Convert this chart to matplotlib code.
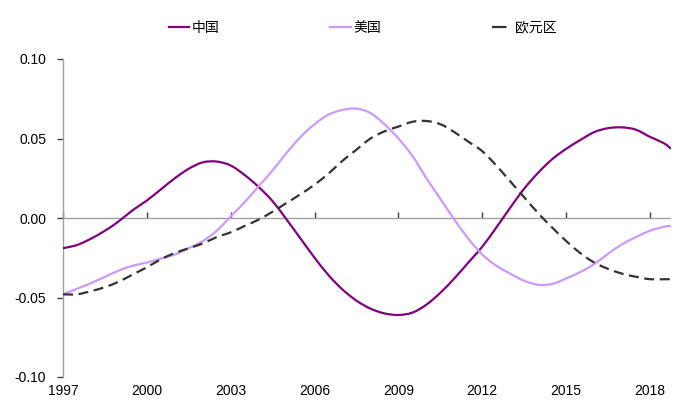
import matplotlib
matplotlib.use("Agg")
import matplotlib.pyplot as plt
from matplotlib.path import Path
from matplotlib.patches import PathPatch
from matplotlib.lines import Line2D
import numpy as np

plt.rcParams['font.family'] = ['Liberation Sans', 'Noto Sans CJK SC', 'DejaVu Sans']

years = [1997.0, 1997.5, 1998.0, 1998.5, 1999.0, 1999.5, 2000.0, 2000.5, 2001.0, 2001.5,
         2002.0, 2002.5, 2003.0, 2003.5, 2004.0, 2004.5, 2005.0, 2005.5, 2006.0, 2006.5,
         2007.0, 2007.5, 2008.0, 2008.5, 2009.0, 2009.5, 2010.0, 2010.5, 2011.0, 2011.5,
         2012.0, 2012.5, 2013.0, 2013.5, 2014.0, 2014.5, 2015.0, 2015.5, 2016.0, 2016.5,
         2017.0, 2017.5, 2018.0, 2018.5, 2018.75]

china = [-0.019, -0.017, -0.013, -0.008, -0.002, 0.005, 0.011, 0.018, 0.025, 0.031,
         0.035, 0.0355, 0.033, 0.027, 0.0195, 0.0105, -0.001, -0.013, -0.025, -0.036,
         -0.045, -0.052, -0.057, -0.060, -0.061, -0.0595, -0.0545, -0.047, -0.038, -0.028,
         -0.018, -0.006, 0.0065, 0.0185, 0.0285, 0.037, 0.0435, 0.049, 0.054, 0.0565,
         0.057, 0.0555, 0.051, 0.047, 0.0435]

usa = [-0.048, -0.0445, -0.041, -0.037, -0.033, -0.030, -0.028, -0.0255, -0.023, -0.019,
       -0.0145, -0.008, 0.001, 0.010, 0.020, 0.030, 0.041, 0.051, 0.059, 0.065,
       0.068, 0.0688, 0.066, 0.059, 0.050, 0.039, 0.025, 0.012, -0.001, -0.013,
       -0.023, -0.030, -0.035, -0.0395, -0.042, -0.0415, -0.038, -0.034, -0.029, -0.0225,
       -0.0165, -0.012, -0.008, -0.0055, -0.005]

euro = [-0.048, -0.048, -0.046, -0.0435, -0.040, -0.0355, -0.031, -0.026, -0.022, -0.019,
        -0.016, -0.012, -0.009, -0.005, -0.001, 0.004, 0.0095, 0.015, 0.021, 0.028,
        0.036, 0.043, 0.050, 0.0545, 0.0575, 0.0605, 0.061, 0.059, 0.054, 0.048,
        0.042, 0.033, 0.023, 0.013, 0.003, -0.006, -0.0145, -0.022, -0.028, -0.032,
        -0.035, -0.037, -0.0385, -0.0385, -0.0385]

series_names = ['中国', '美国', '欧元区']
x_ticks = [1997, 2000, 2003, 2006, 2009, 2012, 2015, 2018]
y_ticks = [-0.10, -0.05, 0.00, 0.05, 0.10]


def smooth_path(xs, ys):
    """Catmull-Rom through the data points, drawn as cubic Bezier segments (like a spreadsheet smoothed line)."""
    p = np.column_stack([xs, ys]).astype(float)
    n = len(p)
    verts = [p[0]]
    codes = [Path.MOVETO]
    for i in range(n - 1):
        p0 = p[i - 1] if i > 0 else p[i]
        p1 = p[i]
        p2 = p[i + 1]
        p3 = p[i + 2] if i + 2 < n else p[i + 1]
        c1 = p1 + (p2 - p0) / 6.0
        c2 = p2 - (p3 - p1) / 6.0
        verts += [c1, c2, p2]
        codes += [Path.CURVE4] * 3
    return Path(verts, codes)


fig = plt.figure(figsize=(6.88, 4.20), dpi=100)
ax = fig.add_axes([63/688, 1-377/420, (671-63)/688, (377-59)/420])

styles = [
    dict(edgecolor='#800080', linewidth=1.6, linestyle='-'),
    dict(edgecolor='#CC99FF', linewidth=1.6, linestyle='-'),
    dict(edgecolor='#333333', linewidth=1.6, linestyle=(0, (4.5, 2.5))),
]
for ys, st in zip([china, usa, euro], styles):
    ax.add_patch(PathPatch(smooth_path(years, ys), facecolor='none', zorder=3,
                           capstyle='butt', joinstyle='round', **st))

ax.set_xlim(1997, 2018.75)
ax.set_ylim(-0.10, 0.10)

for s in ['top', 'right', 'bottom']:
    ax.spines[s].set_visible(False)
ax.spines['left'].set_color('#A0A0A0')
ax.spines['left'].set_linewidth(1.0)

ax.set_yticks(y_ticks)
ax.set_yticklabels(['%.2f' % v for v in y_ticks], fontsize=10)
ax.tick_params(axis='y', direction='out', length=4, width=1, color='#404040', pad=8)

ax.set_xticks(x_ticks)
ax.set_xticklabels([str(v) for v in x_ticks], fontsize=10)
ax.tick_params(axis='x', length=0, pad=5)

ax.axhline(0, color='#A0A0A0', lw=1.0, zorder=1)

sec = ax.secondary_xaxis(0.5)
sec.set_xticks(x_ticks)
sec.set_xticklabels([])
sec.tick_params(axis='x', which='both', top=True, bottom=False, direction='out', length=4,
                width=1, color='#404040', labelbottom=False, labeltop=False)
for s in sec.spines.values():
    s.set_visible(False)

handles = [
    Line2D([], [], color='#800080', lw=1.6),
    Line2D([], [], color='#CC99FF', lw=1.6),
    Line2D([], [], color='#333333', lw=1.6, dashes=(6.5, 10)),
]
leg = ax.legend(handles, series_names, loc='center', bbox_to_anchor=(0.493, 1.098), ncol=3,
                frameon=False, handlelength=1.45, handletextpad=0.2, columnspacing=8.0,
                prop={'family': ['Noto Sans CJK SC', 'DejaVu Sans'], 'size': 10})

fig.savefig('out.png', dpi=100)
